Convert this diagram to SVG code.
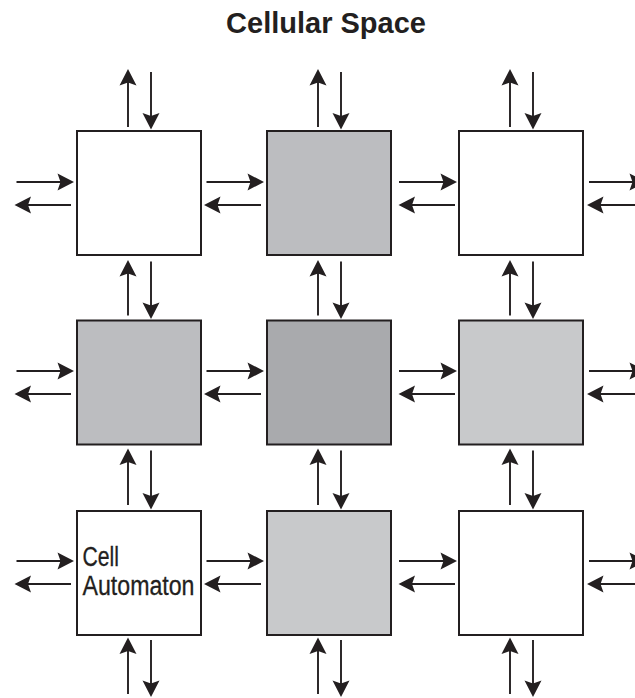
<svg xmlns="http://www.w3.org/2000/svg" width="635" height="698" viewBox="0 0 635 698">
<style>
.cell{stroke:#231f20;stroke-width:2}
.w{fill:#ffffff}
.g1{fill:#bcbdc0}
.g2{fill:#a9aaad}
.g3{fill:#c8c9cb}
.c line{stroke:#231f20;stroke-width:1.9;marker-end:url(#ah)}
.title{font-family:"Liberation Sans",Arial,sans-serif;font-weight:bold;font-size:29px;fill:#231f20}
.lbl{font-family:"Liberation Sans",Arial,sans-serif;font-size:27px;fill:#231f20;stroke:#231f20;stroke-width:0.3}
</style>
<defs>
<marker id="ah" markerUnits="userSpaceOnUse" viewBox="-10 -10 20 20" markerWidth="20" markerHeight="20" refX="0" refY="0" orient="auto" overflow="visible">
<path d="M8,0 L-8.5,-8.5 L-5.5,0 L-8.5,8.5 Z" fill="#231f20"/>
</marker>
</defs>
<rect width="635" height="698" fill="#ffffff"/>
<text class="title" x="326" y="33" text-anchor="middle">Cellular Space</text>

<g id="cell-r1c1"><rect class="cell w" x="77" y="131" width="124" height="124"/></g>
<g id="cell-r1c2"><rect class="cell g1" x="267" y="131" width="124" height="124"/></g>
<g id="cell-r1c3"><rect class="cell w" x="459" y="131" width="124" height="124"/></g>
<g id="cell-r2c1"><rect class="cell g1" x="77" y="320.5" width="124" height="124"/></g>
<g id="cell-r2c2"><rect class="cell g2" x="267" y="320.5" width="124" height="124"/></g>
<g id="cell-r2c3"><rect class="cell g3" x="459" y="320.5" width="124" height="124"/></g>
<g id="cell-r3c1"><rect class="cell w" x="77" y="511" width="124" height="124"/>
<text class="lbl" x="82.5" y="566" textLength="36.5" lengthAdjust="spacingAndGlyphs">Cell</text>
<text class="lbl" x="82.5" y="595" textLength="112" lengthAdjust="spacingAndGlyphs">Automaton</text></g>
<g id="cell-r3c2"><rect class="cell g3" x="267" y="511" width="124" height="124"/></g>
<g id="cell-r3c3"><rect class="cell w" x="459" y="511" width="124" height="124"/></g>

<g id="connectors" class="c">
<!-- vertical: column 1 -->
<line x1="128" y1="127" x2="128" y2="77"/>
<line x1="151" y1="72" x2="151" y2="121.5"/>
<line x1="128" y1="315.5" x2="128" y2="268"/>
<line x1="151" y1="261.5" x2="151" y2="311"/>
<line x1="128" y1="505" x2="128" y2="456.5"/>
<line x1="151" y1="450.5" x2="151" y2="501.5"/>
<line x1="128" y1="694" x2="128" y2="645.5"/>
<line x1="151" y1="640" x2="151" y2="689"/>
<!-- vertical: column 2 -->
<line x1="318" y1="127" x2="318" y2="77"/>
<line x1="341" y1="72" x2="341" y2="121.5"/>
<line x1="318" y1="315.5" x2="318" y2="268"/>
<line x1="341" y1="261.5" x2="341" y2="311"/>
<line x1="318" y1="505" x2="318" y2="456.5"/>
<line x1="341" y1="450.5" x2="341" y2="501.5"/>
<line x1="318" y1="694" x2="318" y2="645.5"/>
<line x1="341" y1="640" x2="341" y2="689"/>
<!-- vertical: column 3 -->
<line x1="510" y1="127" x2="510" y2="77"/>
<line x1="533" y1="72" x2="533" y2="121.5"/>
<line x1="510" y1="315.5" x2="510" y2="268"/>
<line x1="533" y1="261.5" x2="533" y2="311"/>
<line x1="510" y1="505" x2="510" y2="456.5"/>
<line x1="533" y1="450.5" x2="533" y2="501.5"/>
<line x1="510" y1="694" x2="510" y2="645.5"/>
<line x1="533" y1="640" x2="533" y2="689"/>
<!-- horizontal: row 1 -->
<line x1="16.5" y1="182" x2="66" y2="182"/>
<line x1="71" y1="205" x2="22.5" y2="205"/>
<line x1="206.5" y1="182" x2="256" y2="182"/>
<line x1="261" y1="205" x2="212" y2="205"/>
<line x1="399" y1="182" x2="449" y2="182"/>
<line x1="455" y1="205" x2="406.5" y2="205"/>
<line x1="589" y1="182" x2="638" y2="182"/>
<line x1="645" y1="205" x2="595" y2="205"/>
<!-- horizontal: row 2 -->
<line x1="16.5" y1="371" x2="66" y2="371"/>
<line x1="71" y1="394" x2="22.5" y2="394"/>
<line x1="206.5" y1="371" x2="256" y2="371"/>
<line x1="261" y1="394" x2="212" y2="394"/>
<line x1="399" y1="371" x2="449" y2="371"/>
<line x1="455" y1="394" x2="406.5" y2="394"/>
<line x1="589" y1="371" x2="638" y2="371"/>
<line x1="645" y1="394" x2="595" y2="394"/>
<!-- horizontal: row 3 -->
<line x1="16.5" y1="561" x2="66" y2="561"/>
<line x1="71" y1="584" x2="22.5" y2="584"/>
<line x1="206.5" y1="561" x2="256" y2="561"/>
<line x1="261" y1="584" x2="212" y2="584"/>
<line x1="399" y1="561" x2="449" y2="561"/>
<line x1="455" y1="584" x2="406.5" y2="584"/>
<line x1="589" y1="561" x2="638" y2="561"/>
<line x1="645" y1="584" x2="595" y2="584"/>
</g>
</svg>
